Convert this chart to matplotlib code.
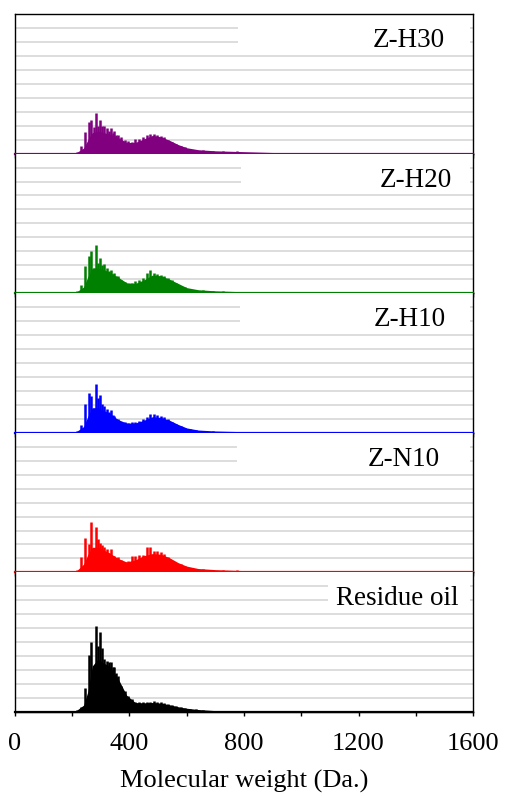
import matplotlib
matplotlib.use("Agg")
import matplotlib.pyplot as plt
from matplotlib.patches import Rectangle
from matplotlib.ticker import MultipleLocator

plt.rcParams['font.family'] = ['Liberation Serif', 'DejaVu Serif']

# spike positions (Da) shared by all samples
peak_mw = [217, 232, 246, 259, 267, 275, 283, 291, 296, 305, 312, 320, 327, 334,
           341, 347, 354, 361, 372, 384, 396, 410, 421, 434, 448, 460, 472, 485,
           497, 509, 521, 535, 549, 564, 579, 593, 610, 634, 657, 692, 727, 774]
# dense under-body of the spectra, sampled more coarsely
body_mw = [180, 215, 240, 255, 270, 290, 310, 330, 360, 390, 420, 450, 480, 510,
           540, 570, 600, 640, 700, 800, 900, 1000, 1100, 1200]

samples = ["Z-H30", "Z-H20", "Z-H10", "Z-N10", "Residue oil"]
colors = ["#800080", "#008000", "#0000ff", "#ff0000", "#000000"]

peaks_h30 = [0.10, 0.57, 1.55, 2.30, 2.38, 1.90, 2.90, 2.00, 2.43, 1.95, 2.00, 1.83, 1.60, 1.80,
             1.50, 1.60, 1.30, 1.36, 1.20, 0.95, 0.88, 0.83, 1.05, 1.05, 1.20, 1.30, 1.43, 1.40,
             1.36, 1.29, 1.20, 1.00, 0.83, 0.69, 0.57, 0.45, 0.36, 0.29, 0.24, 0.21, 0.19, 0.17]
peaks_h20 = [0.15, 0.62, 1.98, 2.64, 3.05, 1.80, 3.48, 2.17, 2.52, 2.05, 2.12, 1.81, 1.60, 1.69,
             1.40, 1.45, 1.20, 1.26, 0.98, 0.79, 0.69, 0.74, 0.85, 0.98, 1.10, 1.45, 1.64, 1.45,
             1.40, 1.33, 1.26, 1.10, 0.93, 0.74, 0.55, 0.43, 0.31, 0.26, 0.21, 0.17, 0.14, 0.12]
peaks_h10 = [0.15, 0.55, 2.05, 2.83, 2.64, 1.70, 3.48, 2.52, 2.71, 2.05, 1.93, 1.69, 1.50, 1.62,
             1.30, 1.21, 1.00, 0.98, 0.79, 0.74, 0.67, 0.74, 0.80, 0.86, 0.98, 1.10, 1.33, 1.33,
             1.29, 1.17, 1.10, 0.98, 0.79, 0.62, 0.50, 0.38, 0.26, 0.19, 0.15, 0.12, 0.09, 0.07]
peaks_n10 = [0.15, 1.07, 2.49, 2.00, 3.59, 1.50, 3.27, 2.41, 2.12, 1.93, 1.80, 1.68, 1.40, 1.68,
             1.20, 1.20, 1.00, 1.12, 0.88, 0.76, 0.83, 1.20, 1.20, 1.27, 1.25, 1.85, 1.80, 1.51,
             1.51, 1.44, 1.32, 1.12, 0.83, 0.71, 0.59, 0.46, 0.34, 0.27, 0.22, 0.20, 0.17, 0.15]
peaks_res = [0.17, 0.33, 1.71, 4.10, 5.00, 3.00, 6.17, 4.74, 5.74, 4.62, 3.83, 3.67, 3.55, 3.60,
             3.20, 3.20, 2.80, 2.60, 1.88, 1.52, 1.17, 0.90, 0.74, 0.69, 0.70, 0.69, 0.72, 0.76,
             0.72, 0.69, 0.66, 0.60, 0.52, 0.42, 0.34, 0.28, 0.24, 0.20, 0.15, 0.10, 0.07, 0.05]

body_h30 = [0.02, 0.08, 0.40, 1.00, 1.50, 1.60, 1.50, 1.40, 1.15, 0.80, 0.80, 1.05, 1.30, 1.20,
            0.95, 0.65, 0.42, 0.28, 0.20, 0.14, 0.08, 0.05, 0.03, 0.01]
body_h20 = [0.02, 0.10, 0.45, 1.20, 1.80, 1.80, 1.70, 1.50, 1.15, 0.75, 0.70, 0.95, 1.30, 1.25,
            1.00, 0.70, 0.40, 0.25, 0.17, 0.10, 0.06, 0.04, 0.02, 0.01]
body_h10 = [0.02, 0.10, 0.45, 1.20, 1.80, 1.80, 1.60, 1.40, 0.95, 0.70, 0.70, 0.90, 1.15, 1.10,
            0.90, 0.60, 0.35, 0.20, 0.13, 0.08, 0.05, 0.03, 0.02, 0.01]
body_n10 = [0.02, 0.12, 0.60, 1.30, 1.80, 1.80, 1.60, 1.40, 1.00, 0.75, 0.90, 1.20, 1.35, 1.30,
            1.05, 0.70, 0.45, 0.28, 0.20, 0.13, 0.08, 0.05, 0.03, 0.01]
body_res = [0.02, 0.12, 0.50, 1.50, 3.30, 3.80, 3.50, 3.30, 2.40, 1.20, 0.68, 0.66, 0.68, 0.64,
            0.52, 0.38, 0.27, 0.18, 0.10, 0.05, 0.03, 0.02, 0.01, 0.00]

peaks = [peaks_h30, peaks_h20, peaks_h10, peaks_n10, peaks_res]
bodies = [body_h30, body_h20, body_h10, body_n10, body_res]

# white label box starts here (axes fraction), text right edge
box_left = [0.487, 0.494, 0.491, 0.485, 0.684]
label_right = [0.939, 0.954, 0.941, 0.928, 0.969]

fig = plt.figure(figsize=(5.06, 7.96), dpi=100)
gs = fig.add_gridspec(5, 1, left=0.0296, right=0.9348, top=0.9824, bottom=0.1055, hspace=0)
axes = [fig.add_subplot(gs[i]) for i in range(5)]

for i, ax in enumerate(axes):
    c = colors[i]
    for g in range(1, 10):
        ax.axhline(g, color="#d3d3d3", lw=1.1, zorder=0.5)
    ax.add_patch(Rectangle((box_left[i], 0.74), 0.993 - box_left[i], 0.26,
                           transform=ax.transAxes, facecolor="white", edgecolor="none", zorder=1))
    ax.text(label_right[i], 0.81, samples[i], transform=ax.transAxes, ha="right", va="center",
            fontsize=19.5, zorder=2)
    ax.fill_between(body_mw, 0, bodies[i], color=c, lw=0, zorder=3)
    ax.vlines(peak_mw, 0, peaks[i], color=c, lw=1.8, zorder=3)
    ax.axhline(0, color=c, lw=1.6, zorder=5, clip_on=False)

    ax.set_xlim(0, 1600)
    ax.set_ylim(0, 10)
    ax.set_yticks([])
    ax.xaxis.set_major_locator(MultipleLocator(400))
    ax.xaxis.set_minor_locator(MultipleLocator(200))
    ax.tick_params(axis="x", which="both", direction="out", length=3, width=1, labelsize=19)
    for s in ax.spines.values():
        s.set_linewidth(1.0)
    if i > 0:
        ax.spines["top"].set_visible(False)
    if i < 4:
        ax.tick_params(axis="x", labelbottom=False)

axes[-1].set_xlabel("Molecular weight (Da.)", fontsize=19, labelpad=11)
axes[-1].tick_params(axis="x", pad=12)

fig.savefig("out.png", dpi=100)
